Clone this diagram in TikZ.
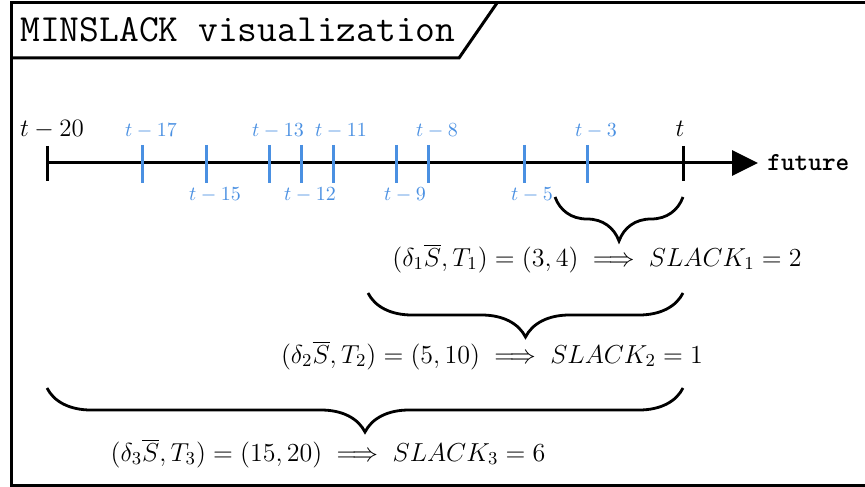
\RequirePackage{fix-cm}
\documentclass[tikz,border=0pt]{standalone}
\usepackage{fontspec}
\usetikzlibrary{arrows.meta,decorations.pathreplacing}
\definecolor{tickblue}{RGB}{74,144,226}
\newcommand{\impl}{\;\Longrightarrow\;}
\begin{document}
\begin{tikzpicture}[x=0.5pt,y=-0.5pt,
  frameline/.style={line width=1.5pt,line join=miter},
  axisline/.style={line width=1.5pt},
  bluetick/.style={line width=1.5pt,draw=tickblue},
  blacktick/.style={line width=1.5pt,draw=black},
  bluelbl/.style={text=tickblue,font=\fontsize{10}{12}\selectfont,anchor=base,inner sep=0pt},
  blacklbl/.style={font=\fontsize{12.5}{14}\selectfont,anchor=base,inner sep=0pt},
  bracepath/.style={decorate,decoration={brace,amplitude=22pt,mirror},line width=1.4pt},
  formula/.style={font=\fontsize{13}{15}\selectfont,anchor=base,inner sep=0pt}]
\useasboundingbox (0,0) rectangle (865,486);
% frame (its right side lies beyond the picture) and title tab
\draw[frameline] (900,3) -- (11,3) -- (11,485) -- (900,485);
\draw[frameline] (11,58) -- (459,58) -- (497,3);
\node[anchor=base west,inner sep=0pt,font=\ttfamily\fontsize{19.2}{19.2}\selectfont] (title) at (20,42) {MINSLACK visualization};
% axis
\coordinate (a0) at (47,163);
\coordinate (aend) at (758,163);
\draw[axisline,-{Triangle[length=13pt,width=12.5pt]}] (a0) -- (aend);
\node[anchor=base west,inner sep=0pt,font=\ttfamily\bfseries\fontsize{13}{13}\selectfont] (future) at (767,170) {future};
% black ticks
\draw[blacktick] (47,146) -- (47,181);
\draw[blacktick] (683,146) -- (683,181);
\node[blacklbl] (l20) at (52,137) {$t-20$};
\node[blacklbl] (l0) at (680,137) {$t$};
% blue ticks
\foreach \x in {142.4,206,269.6,301.4,333.2,396.8,428.6,524,587.6}
  \draw[bluetick] (\x,145) -- (\x,183);
\node[bluelbl] (l17) at (151,137) {$t-17$};
\node[bluelbl] (l13) at (278,137) {$t-13$};
\node[bluelbl] (l11) at (341,137) {$t-11$};
\node[bluelbl] (l8)  at (437,137) {$t-8$};
\node[bluelbl] (l3)  at (596,137) {$t-3$};
\node[bluelbl] (l15) at (215,200) {$t-15$};
\node[bluelbl] (l12) at (310,200) {$t-12$};
\node[bluelbl] (l9)  at (405,200) {$t-9$};
\node[bluelbl] (l5)  at (532,200) {$t-5$};
% braces
\coordinate (b1l) at (555,197);
\coordinate (b1r) at (683,197);
\coordinate (b2l) at (368,293);
\coordinate (b2r) at (683,293);
\coordinate (b3l) at (47,388);
\coordinate (b3r) at (683,388);
\draw[bracepath] (b1l) -- (b1r);
\draw[bracepath] (b2l) -- (b2r);
\draw[bracepath] (b3l) -- (b3r);
% formulas
\node[formula] (f1) at (597,266) {$(\delta_1\overline{S}, T_1) = (3,4) \impl SLACK_1 = 2$};
\node[formula] (f2) at (492,363) {$(\delta_2\overline{S}, T_2) = (5,10) \impl SLACK_2 = 1$};
\node[formula] (f3) at (328,461) {$(\delta_3\overline{S}, T_3) = (15,20) \impl SLACK_3 = 6$};
\end{tikzpicture}
\end{document}
